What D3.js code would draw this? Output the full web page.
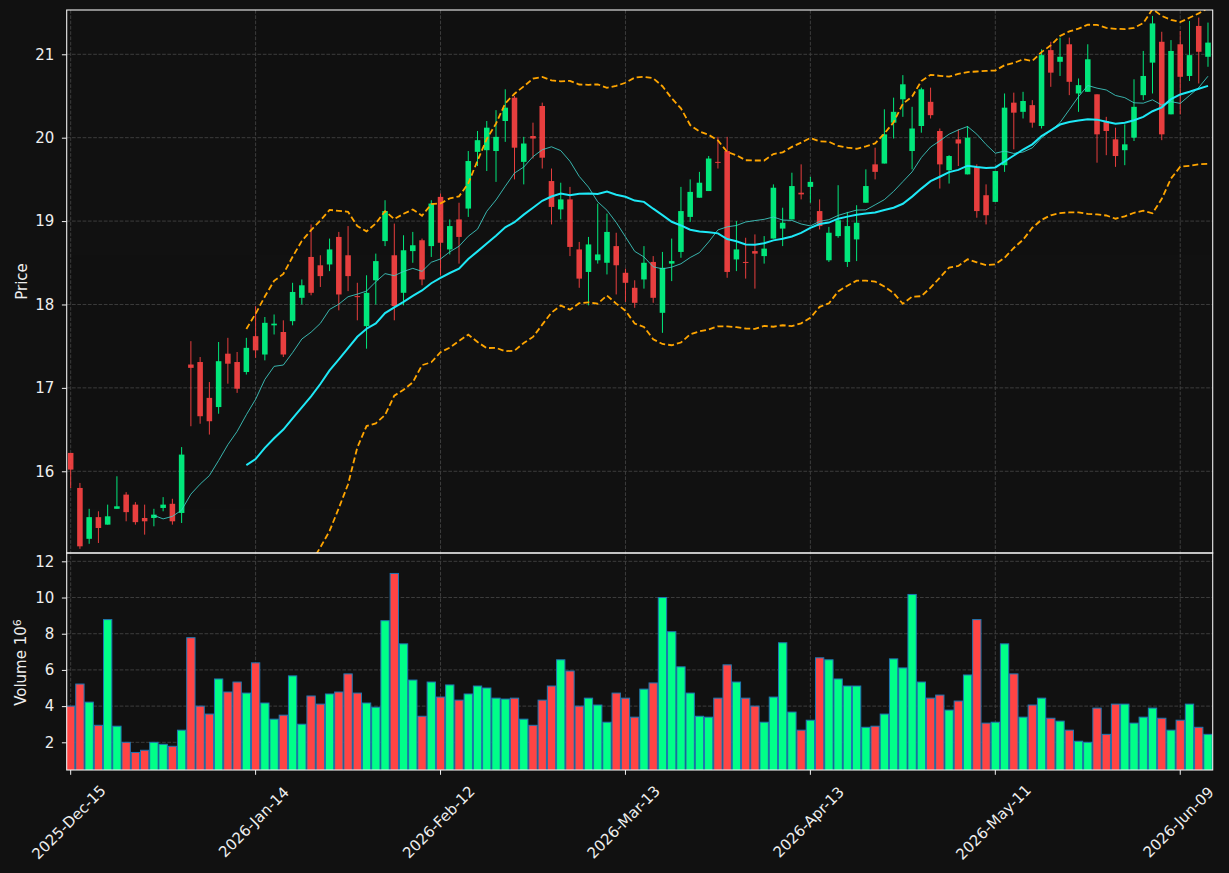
<!DOCTYPE html>
<html>
<head>
<meta charset="utf-8">
<script src="https://cdn.jsdelivr.net/npm/d3@7"></script>
<style>
    html, body { margin: 0; padding: 0; background: #111111; }
    svg text { font-family: "DejaVu Sans", sans-serif; }
</style>
</head>
<body>
<svg id="chart" width="1229" height="873"></svg>
<script>
// tick positions (bar index) and their date labels
const tickIndex = [0, 20, 40, 60, 80, 100, 120];
const tickLabels = ["2025-Dec-15", "2026-Jan-14", "2026-Feb-12", "2026-Mar-13", "2026-Apr-13", "2026-May-11", "2026-Jun-09"];

const opens = [
    16.22, 15.80, 15.19, 15.45, 15.36, 15.55, 15.72, 15.60, 15.44, 15.44,
    15.56, 15.61, 15.50, 17.28, 17.31, 16.88, 16.77, 17.41, 17.31, 17.19,
    17.62, 17.40, 17.75, 17.67, 17.80, 18.08, 18.57, 18.47, 18.48, 18.81,
    18.59, 18.10, 17.74, 18.29, 18.76, 18.59, 18.14, 18.64, 18.77, 18.70,
    19.29, 18.66, 19.02, 19.15, 19.83, 19.85, 19.84, 20.20, 20.48, 19.71,
    20.02, 20.38, 19.48, 19.14, 19.26, 18.66, 18.39, 18.53, 18.50, 18.70,
    18.38, 18.20, 18.30, 18.51, 17.90, 18.49, 18.63, 19.05, 19.28, 19.36,
    19.71, 19.84, 18.54, 18.51, 18.64, 18.58, 18.79, 18.91, 19.02, 19.34,
    19.41, 19.12, 18.53, 18.82, 18.51, 18.78, 19.22, 19.68, 19.69, 20.18,
    20.46, 19.84, 20.14, 20.43, 20.08, 19.61, 19.98, 19.56, 19.65, 19.31,
    19.23, 19.67, 20.42, 20.31, 20.39, 20.14, 21.05, 20.91, 21.12, 20.53,
    20.55, 20.52, 20.20, 19.98, 19.85, 20.00, 20.51, 20.90, 21.15, 20.28,
    21.12, 20.74, 21.34, 20.97
];
const highs = [
    16.22, 15.86, 15.55, 15.52, 15.60, 15.94, 15.75, 15.63, 15.60, 15.55,
    15.69, 15.67, 16.29, 17.56, 17.37, 17.07, 17.55, 17.60, 17.43, 17.60,
    17.98, 17.85, 17.88, 17.81, 18.26, 18.30, 18.96, 18.59, 18.79, 18.87,
    18.94, 18.26, 18.35, 18.61, 19.25, 18.97, 18.83, 18.87, 18.79, 19.25,
    19.33, 19.02, 19.22, 19.84, 20.08, 20.20, 20.33, 20.58, 20.50, 20.01,
    20.18, 20.42, 19.63, 19.46, 19.41, 18.75, 18.81, 19.21, 19.09, 18.86,
    18.43, 18.29, 18.70, 18.58, 18.63, 18.79, 19.41, 19.50, 19.59, 19.78,
    20.01, 20.01, 19.00, 18.80, 18.84, 18.82, 19.44, 19.16, 19.58, 19.68,
    19.53, 19.26, 18.93, 19.43, 19.11, 19.19, 19.62, 19.88, 20.34, 20.48,
    20.75, 20.37, 20.60, 20.60, 20.11, 19.79, 20.10, 20.14, 19.68, 19.44,
    19.60, 20.53, 20.54, 20.55, 20.45, 21.06, 21.15, 21.20, 21.20, 20.71,
    21.12, 20.52, 20.25, 20.12, 20.16, 20.70, 21.04, 21.46, 21.27, 21.17,
    21.28, 21.40, 21.44, 21.38
];
const lows = [
    15.80, 15.07, 15.13, 15.14, 15.36, 15.55, 15.40, 15.36, 15.24, 15.34,
    15.52, 15.36, 15.38, 16.54, 16.57, 16.44, 16.69, 17.05, 16.94, 17.16,
    17.36, 17.33, 17.64, 17.37, 17.75, 18.00, 18.11, 18.21, 18.40, 17.93,
    18.16, 17.81, 17.47, 18.00, 18.70, 17.81, 17.99, 18.50, 18.23, 18.57,
    18.35, 18.60, 18.49, 19.05, 19.66, 19.60, 19.47, 19.95, 19.50, 19.44,
    19.75, 19.63, 18.96, 19.02, 18.58, 18.20, 17.99, 18.49, 18.36, 18.12,
    18.03, 17.96, 18.19, 18.02, 17.66, 18.28, 18.56, 18.99, 19.28, 19.36,
    19.63, 18.32, 18.40, 18.31, 18.19, 18.49, 18.79, 18.70, 19.02, 19.26,
    19.22, 18.90, 18.51, 18.80, 18.45, 18.52, 19.22, 19.50, 19.69, 19.99,
    20.25, 19.62, 20.06, 20.23, 19.39, 19.45, 19.66, 19.56, 19.04, 18.96,
    19.23, 19.59, 19.86, 20.23, 20.12, 20.11, 20.61, 20.74, 20.51, 20.31,
    20.55, 19.70, 19.79, 19.65, 19.67, 19.96, 20.45, 20.53, 19.97, 20.28,
    20.28, 20.68, 20.65, 20.85
];
const closes = [
    16.02, 15.10, 15.45, 15.32, 15.46, 15.58, 15.51, 15.39, 15.40, 15.48,
    15.60, 15.40, 16.20, 17.24, 16.66, 16.60, 17.32, 17.29, 16.99, 17.48,
    17.45, 17.78, 17.77, 17.40, 18.15, 18.23, 18.14, 18.34, 18.66, 18.12,
    18.34, 18.09, 18.14, 18.52, 19.12, 17.98, 18.65, 18.71, 18.30, 19.21,
    18.74, 18.94, 18.81, 19.72, 19.97, 20.12, 20.01, 20.36, 19.88, 19.93,
    19.99, 19.76, 19.17, 19.26, 18.69, 18.31, 18.72, 18.60, 18.87, 18.47,
    18.26, 18.02, 18.50, 18.08, 18.44, 18.52, 19.12, 19.35, 19.46, 19.75,
    19.70, 18.39, 18.66, 18.50, 18.61, 18.67, 19.40, 18.98, 19.42, 19.32,
    19.47, 18.94, 18.86, 19.01, 18.94, 18.98, 19.42, 19.59, 20.04, 20.31,
    20.64, 20.11, 20.58, 20.27, 19.68, 19.78, 19.93, 20.00, 19.12, 19.07,
    19.60, 20.36, 20.30, 20.44, 20.18, 20.99, 20.78, 20.97, 20.67, 20.63,
    20.94, 20.04, 20.08, 19.78, 19.92, 20.37, 20.74, 21.37, 20.04, 21.04,
    20.73, 20.99, 21.03, 21.14
];
// volume in millions
const volumes = [
    4.00, 5.22, 4.22, 2.94, 8.78, 2.89, 2.00, 1.44, 1.56, 2.00,
    1.89, 1.78, 2.67, 7.78, 4.00, 3.56, 5.50, 4.78, 5.33, 4.72,
    6.39, 4.17, 3.28, 3.50, 5.67, 3.00, 4.56, 4.11, 4.67, 4.78,
    5.78, 4.72, 4.17, 3.94, 8.72, 11.33, 7.44, 5.44, 3.44, 5.33,
    4.50, 5.17, 4.33, 4.67, 5.11, 5.00, 4.44, 4.39, 4.44, 3.28,
    2.94, 4.33, 5.11, 6.56, 5.94, 4.00, 4.44, 4.06, 3.11, 4.72,
    4.44, 3.39, 4.94, 5.28, 10.00, 8.11, 6.17, 4.72, 3.44, 3.39,
    4.44, 6.28, 5.33, 4.44, 4.00, 3.11, 4.50, 7.50, 3.67, 2.67,
    3.22, 6.67, 6.56, 5.50, 5.11, 5.11, 2.83, 2.89, 3.56, 6.61,
    6.11, 10.17, 5.33, 4.44, 4.61, 3.78, 4.28, 5.72, 8.78, 3.06,
    3.11, 7.44, 5.78, 3.39, 4.06, 4.44, 3.33, 3.17, 2.67, 2.06,
    2.00, 3.89, 2.44, 4.11, 4.11, 3.06, 3.39, 3.89, 3.33, 2.67,
    3.22, 4.11, 2.83, 2.44
];
const priceTicks = [16, 17, 18, 19, 20, 21];
const volumeTicks = [2, 4, 6, 8, 10, 12];

const upColor = "#00ff88";
const downColor = "#ff4444";
const textColor = "#eeeeee";
const fontSize = 15;

function rollingMean(values, windowSize) {
    return values.map((v, i) => i < windowSize - 1 ? null : d3.mean(values.slice(i - windowSize + 1, i + 1)));
}

function rollingStd(values, windowSize) {
    return values.map((v, i) => i < windowSize - 1 ? null : d3.deviation(values.slice(i - windowSize + 1, i + 1)));
}

const ma10 = rollingMean(closes, 10);
const ma20 = rollingMean(closes, 20);
const std20 = rollingStd(closes, 20);
const upperBand = ma20.map((m, i) => m === null ? null : m + 2 * std20[i]);
const lowerBand = ma20.map((m, i) => m === null ? null : m - 2 * std20[i]);

const svg = d3.select("#chart");
const left = 66.7, right = 1212.7;
const priceTop = 10, priceBottom = 553, volBottom = 770;

const x = d3.scaleLinear().domain([-0.43, 123.51]).range([left, right]);
const step = x(1) - x(0);
const yPrice = d3.scaleLinear().domain([15.02, 21.531]).range([priceBottom, priceTop]);
const yVol = d3.scaleLinear().domain([0.47, 12.46]).range([volBottom, priceBottom]);

const defs = svg.append("defs");
defs.append("clipPath").attr("id", "clipPrice")
    .append("rect").attr("x", left).attr("y", priceTop).attr("width", right - left).attr("height", priceBottom - priceTop);
defs.append("clipPath").attr("id", "clipVol")
    .append("rect").attr("x", left).attr("y", priceBottom).attr("width", right - left).attr("height", volBottom - priceBottom);

// grid
const grid = svg.append("g")
    .attr("stroke", "#424242")
    .attr("stroke-width", 0.9)
    .attr("stroke-dasharray", "3.7,1.6");
grid.selectAll(".vgrid").data(tickIndex).join("line")
    .attr("class", "vgrid")
    .attr("x1", d => x(d)).attr("x2", d => x(d))
    .attr("y1", priceTop).attr("y2", volBottom);
grid.selectAll(".pgrid").data(priceTicks).join("line")
    .attr("class", "pgrid")
    .attr("x1", left).attr("x2", right)
    .attr("y1", d => yPrice(d)).attr("y2", d => yPrice(d));
grid.selectAll(".vgridh").data(volumeTicks).join("line")
    .attr("class", "vgridh")
    .attr("x1", left).attr("x2", right)
    .attr("y1", d => yVol(d)).attr("y2", d => yVol(d));

// volume bars
const barW = step * 0.9;
svg.append("g").attr("clip-path", "url(#clipVol)")
    .selectAll("rect").data(volumes).join("rect")
    .attr("x", (d, i) => x(i) - barW / 2)
    .attr("y", d => yVol(d))
    .attr("width", barW)
    .attr("height", d => volBottom - yVol(d) + 2)
    .attr("fill", (d, i) => closes[i] >= opens[i] ? upColor : downColor)
    .attr("stroke", "#1f77b4")
    .attr("stroke-width", 1);

// candles
const candleG = svg.append("g").attr("clip-path", "url(#clipPrice)").attr("opacity", 0.9);
const bodyW = step * 0.6;
const candles = candleG.selectAll("g").data(closes).join("g")
    .attr("fill", (d, i) => d >= opens[i] ? upColor : downColor)
    .attr("stroke", (d, i) => d >= opens[i] ? upColor : downColor);
candles.append("line")
    .attr("x1", (d, i) => x(i)).attr("x2", (d, i) => x(i))
    .attr("y1", (d, i) => yPrice(highs[i]))
    .attr("y2", (d, i) => yPrice(lows[i]))
    .attr("stroke-width", 1);
candles.append("rect")
    .attr("stroke", "none")
    .attr("x", (d, i) => x(i) - bodyW / 2)
    .attr("width", bodyW)
    .attr("y", (d, i) => yPrice(Math.max(d, opens[i])))
    .attr("height", (d, i) => Math.max(1, Math.abs(yPrice(d) - yPrice(opens[i]))));

// moving averages and bands
const line = d3.line()
    .defined(d => d !== null)
    .x((d, i) => x(i))
    .y(d => yPrice(d));
const lineG = svg.append("g").attr("clip-path", "url(#clipPrice)").attr("fill", "none");
lineG.append("path").attr("d", line(ma10))
    .attr("stroke", "#40d0c8").attr("stroke-width", 1).attr("opacity", 0.85);
lineG.append("path").attr("d", line(ma20))
    .attr("stroke", "#1ee8f6").attr("stroke-width", 2);
[upperBand, lowerBand].forEach(band => {
    lineG.append("path").attr("d", line(band))
        .attr("stroke", "#ffa500").attr("stroke-width", 1.8)
        .attr("stroke-dasharray", "6,3");
});

// frames
svg.append("rect").attr("x", left).attr("y", priceTop)
    .attr("width", right - left).attr("height", priceBottom - priceTop)
    .attr("fill", "none").attr("stroke", "#f0f0f0").attr("stroke-width", 1.1);
svg.append("rect").attr("x", left).attr("y", priceBottom)
    .attr("width", right - left).attr("height", volBottom - priceBottom)
    .attr("fill", "none").attr("stroke", "#f0f0f0").attr("stroke-width", 1.1);

// y axes
function styleAxis(g) {
    g.select(".domain").remove();
    g.selectAll(".tick line").attr("stroke", "#f0f0f0").attr("stroke-width", 1);
    g.selectAll(".tick text").attr("fill", textColor).attr("font-size", fontSize)
        .attr("font-family", "DejaVu Sans, sans-serif");
}
svg.append("g").attr("transform", `translate(${left},0)`)
    .call(d3.axisLeft(yPrice).tickValues(priceTicks).tickSize(4.8).tickPadding(7.5).tickFormat(d3.format("d")))
    .call(styleAxis);
svg.append("g").attr("transform", `translate(${left},0)`)
    .call(d3.axisLeft(yVol).tickValues(volumeTicks).tickSize(4.8).tickPadding(7.5).tickFormat(d3.format("d")))
    .call(styleAxis);

// x axis ticks and rotated date labels
const xAxis = svg.append("g");
xAxis.selectAll("line").data(tickIndex).join("line")
    .attr("x1", d => x(d)).attr("x2", d => x(d))
    .attr("y1", volBottom).attr("y2", volBottom + 4.8)
    .attr("stroke", "#f0f0f0");
xAxis.selectAll("text").data(tickLabels).join("text")
    .attr("transform", (d, i) => `translate(${x(tickIndex[i]) - 2},822) rotate(-45)`)
    .attr("text-anchor", "middle")
    .attr("dy", "0.36em")
    .attr("fill", textColor)
    .attr("font-size", fontSize)
    .text(d => d);

// axis titles
svg.append("text")
    .attr("transform", `translate(27,${(priceTop + priceBottom) / 2}) rotate(-90)`)
    .attr("text-anchor", "middle")
    .attr("fill", textColor)
    .attr("font-size", fontSize)
    .text("Price");
const volLabel = svg.append("text")
    .attr("transform", `translate(25.5,${(priceBottom + volBottom) / 2 + 1}) rotate(-90)`)
    .attr("text-anchor", "middle")
    .attr("fill", textColor)
    .attr("font-size", fontSize);
volLabel.append("tspan").text("Volume  10");
volLabel.append("tspan").attr("dy", "-0.45em").attr("font-size", 11).text("6");
</script>
</body>
</html>
